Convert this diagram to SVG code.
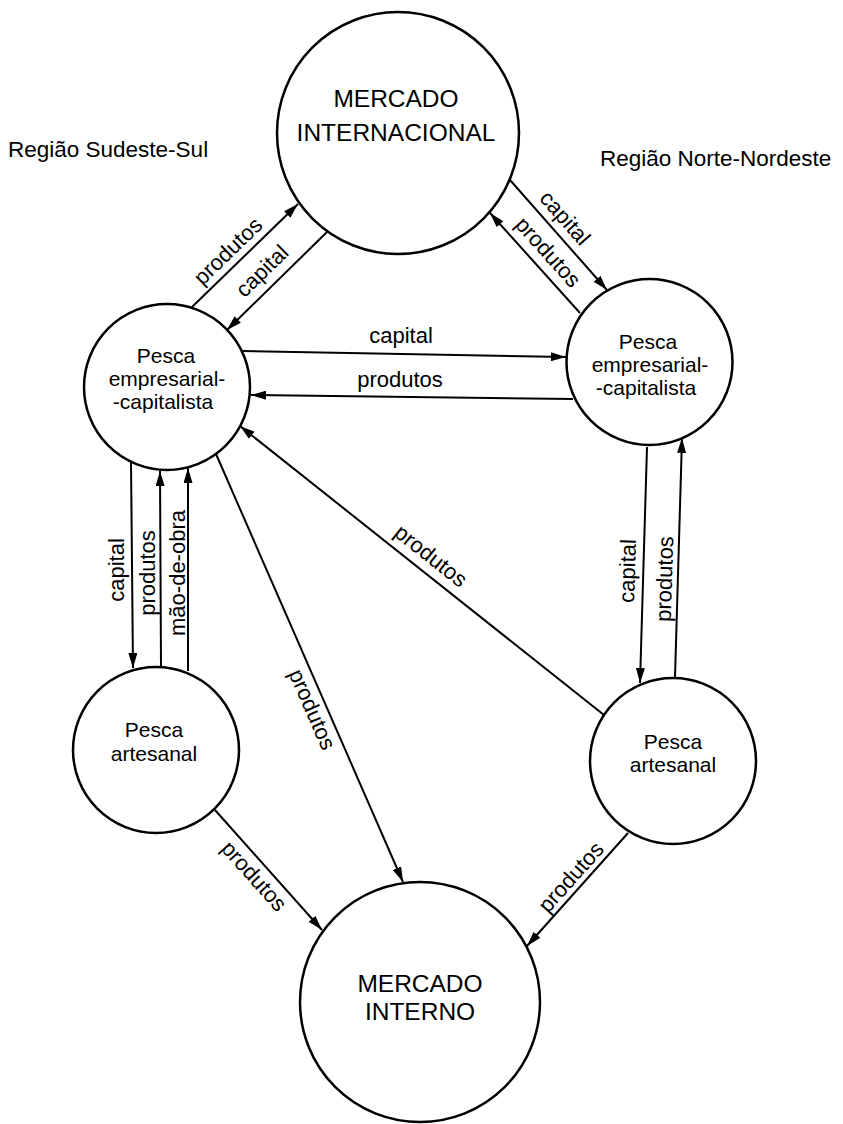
<svg xmlns="http://www.w3.org/2000/svg" width="843" height="1124" viewBox="0 0 843 1124">
<style>
.node circle{fill:#fff;stroke:#000;stroke-width:2.5}
.nt{font-family:"Liberation Sans",Arial,sans-serif;font-size:21px;fill:#000;text-anchor:middle}
.big{font-size:24.5px}
.lb{font-family:"Liberation Sans",Arial,sans-serif;font-size:22px;fill:#000;text-anchor:middle}
.rg{font-family:"Liberation Sans",Arial,sans-serif;font-size:22.5px;fill:#000}
.cn path{fill:none;stroke:#000;stroke-width:2;marker-end:url(#ah)}
</style>
<defs>
<marker id="ah" viewBox="0 0 15 9" refX="15" refY="4.5" markerWidth="15" markerHeight="9" orient="auto" markerUnits="userSpaceOnUse">
<path d="M0,0 L15,4.5 L0,9 Z" fill="#000"/>
</marker>
</defs>
<rect width="843" height="1124" fill="#fff"/>

<text class="rg" x="8" y="157">Região Sudeste-Sul</text>
<text class="rg" x="600" y="166">Região Norte-Nordeste</text>

<g class="cn" id="connectors">
<path d="M192,307 L298,204"/>
<path d="M327,232 L227,330"/>
<path d="M510,180 L607,290"/>
<path d="M580,313 L490,213"/>
<path d="M242,351 L566,357"/>
<path d="M573,399 L251,395"/>
<path d="M131,462 L133,668"/>
<path d="M161,666 L160,471"/>
<path d="M188,671 L188,468"/>
<path d="M647,447 L640,683"/>
<path d="M675,677 L682,438"/>
<path d="M604,715 L240,426"/>
<path d="M216,454 L403,882"/>
<path d="M215,810 L322,930"/>
<path d="M628,833 L527,946"/>
</g>

<g id="labels">
<text class="lb" transform="translate(229,252) rotate(-44.2)" y="6">produtos</text>
<text class="lb" transform="translate(263,272) rotate(-44.4)" y="6">capital</text>
<text class="lb" transform="translate(564,219) rotate(48.6)" y="6">capital</text>
<text class="lb" transform="translate(547,253) rotate(48)" y="6">produtos</text>
<text class="lb" x="401" y="343">capital</text>
<text class="lb" x="400" y="387">produtos</text>
<text class="lb" transform="translate(118,570) rotate(-90)" y="6">capital</text>
<text class="lb" transform="translate(149,573) rotate(-90)" y="6">produtos</text>
<text class="lb" transform="translate(178,573) rotate(-90)" y="7">mão-de-obra</text>
<text class="lb" transform="translate(629,571) rotate(-88.3)" y="6">capital</text>
<text class="lb" transform="translate(666,579) rotate(-88.3)" y="6">produtos</text>
<text class="lb" transform="translate(430,557) rotate(38.4)" y="6">produtos</text>
<text class="lb" transform="translate(311,710) rotate(66.4)" y="6">produtos</text>
<text class="lb" transform="translate(253,877) rotate(48)" y="6">produtos</text>
<text class="lb" transform="translate(572,878) rotate(-48.2)" y="6">produtos</text>
</g>

<g class="node" id="mercado-internacional">
<circle cx="398" cy="133" r="121"/>
<text class="nt big" x="396" y="107">MERCADO</text>
<text class="nt big" x="396" y="141">INTERNACIONAL</text>
</g>

<g class="node" id="pesca-empresarial-sul">
<circle cx="167" cy="387" r="83"/>
<text class="nt" x="166" y="363">Pesca</text>
<text class="nt" x="167" y="386">empresarial-</text>
<text class="nt" x="163" y="409">-capitalista</text>
</g>

<g class="node" id="pesca-empresarial-norte">
<circle cx="649.5" cy="362" r="83"/>
<text class="nt" x="648" y="349">Pesca</text>
<text class="nt" x="650" y="372">empresarial-</text>
<text class="nt" x="646" y="395">-capitalista</text>
</g>

<g class="node" id="pesca-artesanal-sul">
<circle cx="156" cy="750" r="83"/>
<text class="nt" x="154" y="737">Pesca</text>
<text class="nt" x="154" y="761">artesanal</text>
</g>

<g class="node" id="pesca-artesanal-norte">
<circle cx="673" cy="761" r="83"/>
<text class="nt" x="673" y="749">Pesca</text>
<text class="nt" x="673" y="772">artesanal</text>
</g>

<g class="node" id="mercado-interno">
<circle cx="420" cy="1002" r="120"/>
<text class="nt big" x="420" y="992">MERCADO</text>
<text class="nt big" x="420" y="1020">INTERNO</text>
</g>
</svg>
